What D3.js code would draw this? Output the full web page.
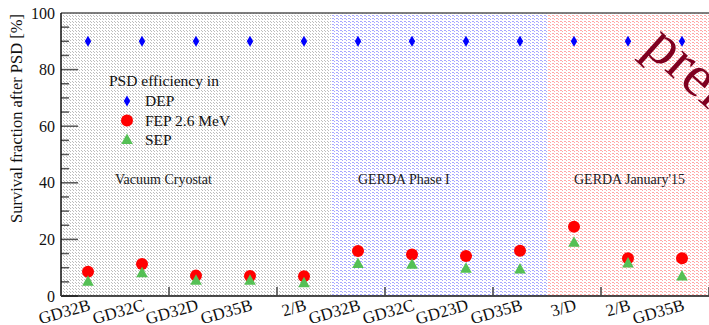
<!DOCTYPE html>
<html>
<head>
<meta charset="utf-8">
<script src="https://cdn.jsdelivr.net/npm/d3@7"></script>
<style>
  html, body { margin: 0; padding: 0; background: #fff; }
  svg { display: block; }
  text { font-family: "Liberation Serif", "DejaVu Serif", serif; }
</style>
</head>
<body>
<svg id="chart" width="709" height="325"></svg>
<script>
// detector names, in plot order
const detectors = ['GD32B', 'GD32C', 'GD32D', 'GD35B', '2/B', 'GD32B', 'GD32C', 'GD23D', 'GD35B', '3/D', '2/B', 'GD35B'];
const depValues = [90, 90, 90, 90, 90, 90, 90, 90, 90, 90, 90, 90];
const fepValues = [8.6, 11.3, 7.2, 7.1, 7.0, 15.9, 14.7, 14.1, 16.0, 24.5, 13.3, 13.3];
const sepValues = [5.0, 8.0, 5.4, 5.4, 4.5, 11.3, 11.0, 9.6, 9.4, 18.8, 11.5, 6.9];

// setup periods: first bin, last bin + 1, bin where the label starts
const periods = [
  { from: 0, to: 5, labelAt: 1, label: 'Vacuum Cryostat', fill: 'url(#dotsGray)' },
  { from: 5, to: 9, labelAt: 5.5, label: 'GERDA Phase I', fill: 'url(#dotsBlue)' },
  { from: 9, to: 12, labelAt: 9.5, label: "GERDA January'15", fill: 'url(#dotsRed)' }
];
const yTicks = [0, 20, 40, 60, 80, 100];

const width = 709;
const height = 325;
const margin = { top: 13, right: 0, bottom: 29, left: 61 };

const svg = d3.select('#chart');

const x = d3.scaleLinear()
  .domain([0, detectors.length])
  .range([margin.left, width - margin.right]);

const y = d3.scaleLinear()
  .domain([0, 100])
  .range([height - margin.bottom, margin.top]);

// dotted fill patterns like the ROOT fill styles
const defs = svg.append('defs');
function addPattern(id, w, h, color, dots) {
  const p = defs.append('pattern')
    .attr('id', id)
    .attr('patternUnits', 'userSpaceOnUse')
    .attr('width', w)
    .attr('height', h);
  p.append('rect').attr('width', w).attr('height', h).attr('fill', '#fff');
  dots.forEach(d => {
    p.append('rect')
      .attr('x', d[0]).attr('y', d[1])
      .attr('width', d[2]).attr('height', d[3])
      .attr('fill', color);
  });
}
addPattern('dotsGray', 3, 3, '#bdbdbd', [[0, 0, 1, 1], [1, 1, 1, 1]]);
addPattern('dotsBlue', 4, 3, '#a8a8ff', [[0, 0, 2, 1], [2, 1, 1, 1]]);
addPattern('dotsRed', 4, 3, '#ffa8a8', [[0, 0, 2, 1], [2, 1, 1, 1]]);

svg.append('g')
  .selectAll('rect')
  .data(periods)
  .join('rect')
  .attr('x', d => x(d.from))
  .attr('y', y(100))
  .attr('width', d => x(d.to) - x(d.from))
  .attr('height', y(0) - y(100))
  .attr('fill', d => d.fill);

// period labels
svg.append('g')
  .selectAll('text')
  .data(periods)
  .join('text')
  .attr('x', d => x(d.labelAt))
  .attr('y', y(40) + 1)
  .attr('font-size', '14px')
  .attr('fill', '#222')
  .text(d => d.label);

// frame
svg.append('line')
  .attr('x1', x(0)).attr('x2', width)
  .attr('y1', y(100)).attr('y2', y(100))
  .attr('stroke', '#555').attr('stroke-width', 1.5);

// y axis
const yAxis = svg.append('g').attr('class', 'y-axis');
d3.range(0, 100, 5).forEach(v => {
  const major = v % 20 === 0;
  yAxis.append('line')
    .attr('x1', x(0)).attr('x2', x(0) + (major ? 17 : 8))
    .attr('y1', y(v)).attr('y2', y(v))
    .attr('stroke', '#555').attr('stroke-width', 1.5);
});
yAxis.append('line')
  .attr('x1', x(0)).attr('x2', x(0))
  .attr('y1', y(0)).attr('y2', y(100))
  .attr('stroke', '#111').attr('stroke-width', 1.5);
yAxis.selectAll('text')
  .data(yTicks)
  .join('text')
  .attr('x', x(0) - 6)
  .attr('y', d => y(d))
  .attr('dy', '0.35em')
  .attr('text-anchor', 'end')
  .attr('font-size', '16px')
  .attr('fill', '#111')
  .text(d => d);

svg.append('text')
  .attr('transform', `translate(22,${y(100) + 1}) rotate(-90)`)
  .attr('text-anchor', 'end')
  .attr('font-size', '16.5px')
  .attr('fill', '#111')
  .text('Survival fraction after PSD [%]');

// x axis
const xAxis = svg.append('g').attr('class', 'x-axis');
xAxis.append('line')
  .attr('x1', x(0)).attr('x2', width)
  .attr('y1', y(0)).attr('y2', y(0))
  .attr('stroke', '#111').attr('stroke-width', 1.5);
d3.range(0, detectors.length + 1, 2).forEach(b => {
  xAxis.append('line')
    .attr('x1', x(b)).attr('x2', x(b))
    .attr('y1', y(0)).attr('y2', y(0) - 9)
    .attr('stroke', '#444').attr('stroke-width', 1.5);
});
xAxis.selectAll('text')
  .data(detectors)
  .join('text')
  .attr('transform', (d, i) => `translate(${x(i + 0.5)},${y(0) + 2}) rotate(-16)`)
  .attr('text-anchor', 'end')
  .attr('dy', '0.72em')
  .attr('font-size', '17px')
  .attr('fill', '#111')
  .text(d => d);

// markers
const diamond = 'M0,-5.5L3.2,0L0,5.5L-3.2,0Z';
const triangle = 'M0,-6.5L5.8,4L-5.8,4Z';

svg.append('g')
  .selectAll('path')
  .data(depValues)
  .join('path')
  .attr('transform', (d, i) => `translate(${x(i + 0.5)},${y(d)})`)
  .attr('d', diamond)
  .attr('fill', '#0000ff');

svg.append('g')
  .selectAll('circle')
  .data(fepValues)
  .join('circle')
  .attr('cx', (d, i) => x(i + 0.5))
  .attr('cy', d => y(d))
  .attr('r', 6)
  .attr('fill', '#ff0000');

svg.append('g')
  .selectAll('path')
  .data(sepValues)
  .join('path')
  .attr('transform', (d, i) => `translate(${x(i + 0.5)},${y(d)})`)
  .attr('d', triangle)
  .attr('fill', '#55c055');

// legend
const legend = svg.append('g').attr('transform', 'translate(109,86)');
legend.append('text')
  .attr('x', 0).attr('y', 0)
  .attr('font-size', '15.5px')
  .attr('fill', '#111')
  .text('PSD efficiency in');
const legendItems = [
  { label: 'DEP', kind: 'dep' },
  { label: 'FEP 2.6 MeV', kind: 'fep' },
  { label: 'SEP', kind: 'sep' }
];
legendItems.forEach((item, i) => {
  const cy = 15 + i * 19.5;
  if (item.kind === 'dep') {
    legend.append('path').attr('transform', `translate(18,${cy})`).attr('d', diamond).attr('fill', '#0000ff');
  } else if (item.kind === 'fep') {
    legend.append('circle').attr('cx', 18).attr('cy', cy).attr('r', 6).attr('fill', '#ff0000');
  } else {
    legend.append('path').attr('transform', `translate(18,${cy})`).attr('d', triangle).attr('fill', '#55c055');
  }
  legend.append('text')
    .attr('x', 36).attr('y', cy)
    .attr('dy', '0.35em')
    .attr('font-size', '15.5px')
    .attr('fill', '#111')
    .text(item.label);
});

// watermark, cut by the right edge as in the original
svg.append('text')
  .attr('transform', 'translate(642,50) rotate(42)')
  .attr('font-family', '"Liberation Sans", Arial, sans-serif')
  .attr('font-size', '58px')
  .attr('fill', '#7f0020')
  .text('preliminary');
</script>
</body>
</html>
